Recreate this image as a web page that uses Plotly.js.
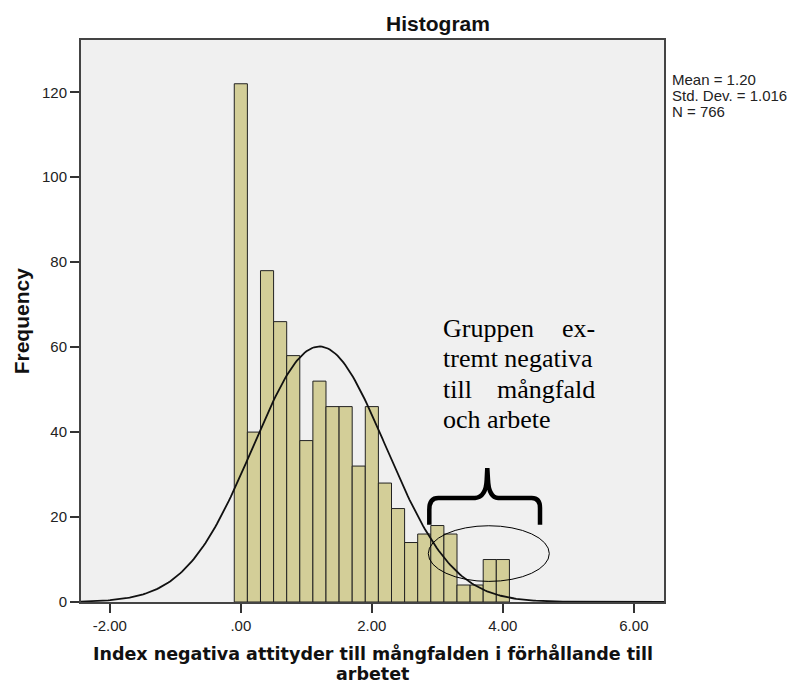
<!DOCTYPE html>
<html>
<head>
<meta charset="utf-8">
<script src="https://cdn.plot.ly/plotly-3.0.1.min.js"></script>
<style>
  html, body { margin: 0; padding: 0; background: #ffffff; }
  #chart { width: 794px; height: 684px; }
</style>
</head>
<body>
<div id="chart"></div>
<script>
// ---------------- DATA ----------------
var binCenters = [0.0, 0.2, 0.4, 0.6, 0.8, 1.0, 1.2, 1.4, 1.6, 1.8, 2.0,
                  2.2, 2.4, 2.6, 2.8, 3.0, 3.2, 3.4, 3.6, 3.8, 4.0];
var frequencies = [122, 40, 78, 66, 58, 38, 52, 46, 46, 32, 46,
                   28, 22, 14, 16, 18, 16, 4, 4, 10, 10];
var binWidth = 0.2;
var statMean = 1.20;
var statSD = 1.016;
var statN = 766;
var xTickVals = [-2, 0, 2, 4, 6];
var xTickText = ["-2.00", ".00", "2.00", "4.00", "6.00"];
var yTickVals = [0, 20, 40, 60, 80, 100, 120];
var chartTitle = "Histogram";
var yTitle = "Frequency";
var xTitleLines = ["Index negativa attityder till mångfalden i förhållande till", "arbetet"];
var statLines = ["Mean = 1.20", "Std. Dev. = 1.016", "N = 766"];
var noteLines = [["Gruppen", "ex-"], ["tremt negativa", ""], ["till", "mångfald"], ["och arbete", ""]];

// ---------------- GEOMETRY (layout only) ----------------
var W = 794, H = 684;
var plotL = 81, plotR = 664, plotT = 40, plotB = 602.3;
var xRange = [-2.44, 6.46];
var yRange = [0, 132.3];
function px(xp) { return (xp - plotL) / (plotR - plotL); }
function py(yp) { return (plotB - yp) / (plotB - plotT); }

// normal curve from displayed statistics
var curveX = [], curveY = [];
for (var i = 0; i <= 300; i++) {
  var xv = xRange[0] + (xRange[1] - xRange[0]) * i / 300;
  var z = (xv - statMean) / statSD;
  curveX.push(xv);
  curveY.push(statN * binWidth * Math.exp(-0.5 * z * z) / (statSD * Math.sqrt(2 * Math.PI)));
}

var traces = [
  {
    type: 'bar',
    x: binCenters,
    y: frequencies,
    width: binCenters.map(function () { return binWidth; }),
    marker: { color: '#D3CE98', line: { color: '#222222', width: 1 } },
    hoverinfo: 'skip'
  },
  {
    type: 'scatter',
    mode: 'lines',
    x: curveX,
    y: curveY,
    line: { color: '#111111', width: 1.8 },
    hoverinfo: 'skip'
  }
];

var sansFont = 'Liberation Sans, Arial, sans-serif';
var wideFont = 'DejaVu Sans, Verdana, sans-serif';
var serifFont = 'Liberation Serif, Times New Roman, serif';

var annotations = [];
// y title
annotations.push({
  text: '<b>' + yTitle + '</b>', xref: 'paper', yref: 'paper',
  x: px(21.5), y: py(321), xanchor: 'center', yanchor: 'middle',
  textangle: -90, showarrow: false,
  font: { family: sansFont, size: 21, color: '#111' }
});
// x title lines
var xtY = [654, 674.3];
xTitleLines.forEach(function (t, k) {
  annotations.push({
    text: '<b>' + t + '</b>', xref: 'paper', yref: 'paper',
    x: px(372.5), y: py(xtY[k]), xanchor: 'center', yanchor: 'middle',
    showarrow: false, borderpad: 0,
    font: { family: wideFont, size: 17.5, color: '#111' }
  });
});
// stats lines
var stY = [79.8, 95.8, 111.5];
statLines.forEach(function (t, k) {
  annotations.push({
    text: t, xref: 'paper', yref: 'paper',
    x: px(671), y: py(stY[k]), xanchor: 'left', yanchor: 'middle',
    showarrow: false, borderpad: 0,
    font: { family: sansFont, size: 15, color: '#222' }
  });
});
// note text (justified look)
var noteY = [328.5, 358.5, 389.5, 420.2];
noteLines.forEach(function (pair, k) {
  annotations.push({
    text: pair[0], xref: 'paper', yref: 'paper',
    x: px(440.5), y: py(noteY[k]), xanchor: 'left', yanchor: 'middle',
    showarrow: false, font: { family: serifFont, size: 26, color: '#000' }
  });
  if (pair[1]) {
    annotations.push({
      text: pair[1], xref: 'paper', yref: 'paper',
      x: px(596.5), y: py(noteY[k]), xanchor: 'right', yanchor: 'middle',
      showarrow: false, font: { family: serifFont, size: 26, color: '#000' }
    });
  }
});

function P(a, b) { return px(a).toFixed(5) + ',' + py(b).toFixed(5); }
var bracePath =
  'M' + P(429.3, 525) + ' L' + P(429.3, 510) +
  ' Q' + P(429.3, 498.3) + ' ' + P(438.3, 498.3) +
  ' L' + P(475, 498.3) +
  ' Q' + P(486, 497.3) + ' ' + P(486.7, 480) +
  ' L' + P(487.3, 468.3) +
  ' L' + P(488, 480) +
  ' Q' + P(488.7, 497.3) + ' ' + P(498.3, 498.3) +
  ' L' + P(531.7, 498.3) +
  ' Q' + P(540, 498.3) + ' ' + P(540, 508.3) +
  ' L' + P(540, 525);

var shapes = [
  { type: 'path', xref: 'paper', yref: 'paper', path: bracePath,
    line: { color: '#000', width: 4.5 } },
  { type: 'circle', xref: 'paper', yref: 'paper',
    x0: px(428.3), x1: px(549.3), y0: py(581.7), y1: py(526),
    line: { color: '#000', width: 1 } }
];

var layout = {
  width: W, height: H,
  margin: { l: plotL, r: W - plotR, t: plotT, b: H - plotB, pad: 0 },
  paper_bgcolor: '#ffffff',
  plot_bgcolor: '#F0F0F0',
  showlegend: false,
  bargap: 0,
  title: {
    text: '<b>' + chartTitle + '</b>',
    xref: 'container', yref: 'container',
    x: 438 / W, y: 1 - 23.4 / H, xanchor: 'center', yanchor: 'middle',
    font: { family: sansFont, size: 21, color: '#111' }
  },
  xaxis: {
    range: xRange, tickmode: 'array', tickvals: xTickVals, ticktext: xTickText,
    ticks: 'outside', ticklen: 9, tickwidth: 2, tickcolor: '#333',
    showline: true, mirror: true, linecolor: '#444', linewidth: 2,
    showgrid: false, zeroline: false,
    tickfont: { family: sansFont, size: 15, color: '#222' }
  },
  yaxis: {
    range: yRange, tickmode: 'array', tickvals: yTickVals,
    ticks: 'outside', ticklen: 9, tickwidth: 2, tickcolor: '#333',
    showline: true, mirror: true, linecolor: '#444', linewidth: 2,
    showgrid: false, zeroline: false,
    tickfont: { family: sansFont, size: 15, color: '#222' }
  },
  annotations: annotations,
  shapes: shapes
};

Plotly.newPlot('chart', traces, layout, { displayModeBar: false, staticPlot: true });
</script>
</body>
</html>
